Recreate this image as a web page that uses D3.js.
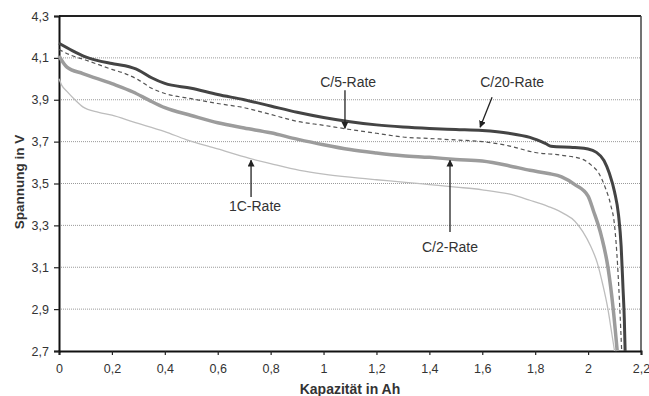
<!DOCTYPE html>
<html>
<head>
<meta charset="utf-8">
<script src="https://cdn.jsdelivr.net/npm/d3@7"></script>
<style>
  body { margin: 0; background: #fff; }
  text { font-family: "Liberation Sans", Arial, sans-serif; }
</style>
</head>
<body>
<div id="graph"></div>
<script>
// Entladekurven bei verschiedenen Raten
const xTicks = [0, 0.2, 0.4, 0.6, 0.8, 1, 1.2, 1.4, 1.6, 1.8, 2, 2.2];
const yTicks = [2.7, 2.9, 3.1, 3.3, 3.5, 3.7, 3.9, 4.1, 4.3];

const c20X = [0, 0.05, 0.1, 0.2, 0.25, 0.3, 0.35, 0.4, 0.5, 0.6, 0.7, 0.8, 0.9, 1.0, 1.1, 1.2, 1.3, 1.4, 1.5, 1.6, 1.7, 1.78, 1.84, 1.86, 1.95, 2.0, 2.03, 2.06, 2.08, 2.1, 2.115, 2.125, 2.132, 2.137, 2.14];
const c20Y = [4.17, 4.135, 4.105, 4.073, 4.062, 4.042, 4.005, 3.978, 3.955, 3.925, 3.9, 3.87, 3.84, 3.815, 3.795, 3.78, 3.77, 3.763, 3.758, 3.753, 3.74, 3.72, 3.69, 3.678, 3.672, 3.665, 3.65, 3.61, 3.55, 3.46, 3.35, 3.2, 3.0, 2.85, 2.7];

const c5X = [0, 0.05, 0.1, 0.2, 0.25, 0.3, 0.35, 0.4, 0.5, 0.6, 0.7, 0.8, 0.9, 1.0, 1.1, 1.2, 1.3, 1.4, 1.5, 1.6, 1.7, 1.8, 1.9, 1.98, 2.01, 2.04, 2.065, 2.085, 2.1, 2.112, 2.12, 2.127];
const c5Y = [4.14, 4.11, 4.09, 4.045, 4.025, 3.995, 3.955, 3.93, 3.905, 3.882, 3.862, 3.83, 3.797, 3.778, 3.758, 3.74, 3.722, 3.715, 3.708, 3.70, 3.68, 3.648, 3.635, 3.615, 3.59, 3.55, 3.48, 3.4, 3.3, 3.1, 2.9, 2.7];

const c2X = [0, 0.03, 0.09, 0.2, 0.28, 0.34, 0.4, 0.5, 0.6, 0.7, 0.8, 0.9, 1.0, 1.1, 1.2, 1.3, 1.4, 1.5, 1.6, 1.7, 1.78, 1.85, 1.9, 1.95, 2.0, 2.02, 2.05, 2.075, 2.095, 2.11];
const c2Y = [4.11, 4.056, 4.025, 3.977, 3.937, 3.898, 3.862, 3.825, 3.79, 3.765, 3.742, 3.712, 3.685, 3.662, 3.646, 3.633, 3.625, 3.615, 3.607, 3.585, 3.563, 3.548, 3.532, 3.495, 3.44, 3.37, 3.25, 3.1, 2.9, 2.7];

const c1X = [0, 0.01, 0.03, 0.06, 0.09, 0.15, 0.2, 0.28, 0.4, 0.48, 0.6, 0.72, 0.8, 0.91, 1.0, 1.1, 1.2, 1.3, 1.4, 1.5, 1.6, 1.7, 1.78, 1.85, 1.91, 1.95, 1.98, 2.01, 2.035, 2.055, 2.075, 2.09, 2.1];
const c1Y = [4.0, 3.97, 3.94, 3.9, 3.866, 3.84, 3.826, 3.794, 3.748, 3.71, 3.665, 3.62, 3.595, 3.563, 3.545, 3.53, 3.518, 3.507, 3.495, 3.483, 3.47, 3.45, 3.42, 3.39, 3.355, 3.32, 3.27, 3.2, 3.12, 3.02, 2.9, 2.78, 2.7];

const seriesNames = ["1C-Rate", "C/2-Rate", "C/5-Rate", "C/20-Rate"];

let margin = { top: 16, right: 8, bottom: 45, left: 59 },
    width = 649 - margin.left - margin.right,
    height = 396 - margin.top - margin.bottom;

let root = d3.select("#graph")
    .append("svg")
    .attr("width", 649)
    .attr("height", 396);

root.append("defs").append("marker")
    .attr("id", "arrow")
    .attr("viewBox", "0 0 10 10")
    .attr("refX", 9).attr("refY", 5)
    .attr("markerWidth", 7).attr("markerHeight", 7)
    .attr("markerUnits", "userSpaceOnUse")
    .attr("orient", "auto")
    .append("path")
    .attr("d", "M0,0 L10,5 L0,10 z")
    .attr("fill", "#222");

let svg = root.append("g")
    .attr("transform", "translate(" + margin.left + "," + margin.top + ")");

let x = d3.scaleLinear().domain([0, 2.2]).range([0, width]);
let y = d3.scaleLinear().domain([2.7, 4.3]).range([height, 0]);

// Gitterlinien
svg.append("g")
    .selectAll("line")
    .data(yTicks.slice(1, -1))
    .join("line")
    .attr("x1", 0).attr("x2", width)
    .attr("y1", d => y(d)).attr("y2", d => y(d))
    .attr("stroke", "#9a9a9a")
    .attr("stroke-width", 1)
    .attr("stroke-dasharray", "1,1");

// Rahmen oben / rechts
svg.append("line").attr("x1", 0).attr("x2", width).attr("y1", 0).attr("y2", 0)
    .attr("stroke", "#222").attr("stroke-width", 2);
svg.append("line").attr("x1", width).attr("x2", width).attr("y1", 0).attr("y2", height)
    .attr("stroke", "#444").attr("stroke-width", 1.5);

const fmt = d => String(d).replace(".", ",");

let xAxis = svg.append("g")
    .attr("transform", "translate(0," + height + ")")
    .call(d3.axisBottom(x).tickValues(xTicks).tickFormat(fmt).tickSize(4).tickPadding(9));
let yAxis = svg.append("g")
    .call(d3.axisLeft(y).tickValues(yTicks).tickFormat(fmt).tickSize(5).tickPadding(5));

[xAxis, yAxis].forEach(a => {
    a.select(".domain").attr("stroke", "#111").attr("stroke-width", 2);
    a.selectAll(".tick line").attr("stroke", "#222").attr("stroke-width", 1.2);
    a.selectAll(".tick text").attr("font-size", 12.5).attr("fill", "#333")
        .attr("font-family", "'Liberation Sans', Arial, sans-serif");
});

// Kurven
let line = d3.line()
    .x(d => x(d[0]))
    .y(d => y(d[1]))
    .curve(d3.curveMonotoneX);

let curves = [
    { xs: c1X, ys: c1Y, color: "#bdbdbd", w: 1.3, dash: null },
    { xs: c2X, ys: c2Y, color: "#9c9c9c", w: 3.5, dash: null },
    { xs: c5X, ys: c5Y, color: "#555", w: 1.2, dash: "4,3" },
    { xs: c20X, ys: c20Y, color: "#444", w: 3, dash: null }
];

svg.append("g")
    .selectAll("path")
    .data(curves)
    .join("path")
    .attr("d", c => line(c.xs.map((v, i) => [v, c.ys[i]])))
    .attr("fill", "none")
    .attr("stroke", c => c.color)
    .attr("stroke-width", c => c.w)
    .attr("stroke-dasharray", c => c.dash);

// Beschriftungen mit Pfeilen (in Datenkoordinaten)
let notes = [
    { name: seriesNames[0], lx: 0.741, ly: 3.391, ax: 0.726, ay0: 3.435, bx: 0.726, by: 3.611 },
    { name: seriesNames[1], lx: 1.478, ly: 3.196, ax: 1.478, ay0: 3.268, bx: 1.478, by: 3.611 },
    { name: seriesNames[2], lx: 1.093, ly: 3.984, ax: 1.081, ay0: 3.945, bx: 1.081, by: 3.764 },
    { name: seriesNames[3], lx: 1.713, ly: 3.984, ax: 1.637, ay0: 3.912, bx: 1.592, by: 3.769 }
];

let ng = svg.append("g");
ng.selectAll("line")
    .data(notes)
    .join("line")
    .attr("x1", d => x(d.ax)).attr("y1", d => y(d.ay0))
    .attr("x2", d => x(d.bx)).attr("y2", d => y(d.by))
    .attr("stroke", "#222")
    .attr("stroke-width", 1.3)
    .attr("marker-end", "url(#arrow)");
ng.selectAll("text")
    .data(notes)
    .join("text")
    .attr("x", d => x(d.lx)).attr("y", d => y(d.ly))
    .attr("dy", "0.35em")
    .attr("text-anchor", "middle")
    .attr("font-size", 14)
    .attr("fill", "#333")
    .text(d => d.name);

// Achsentitel
root.append("text")
    .attr("x", 350).attr("y", 394)
    .attr("text-anchor", "middle")
    .attr("font-size", 14).attr("font-weight", "bold").attr("fill", "#333")
    .text("Kapazität in Ah");
root.append("text")
    .attr("transform", "translate(24,182) rotate(-90)")
    .attr("text-anchor", "middle")
    .attr("font-size", 13.5).attr("font-weight", "bold").attr("fill", "#333")
    .text("Spannung in V");
</script>
</body>
</html>
